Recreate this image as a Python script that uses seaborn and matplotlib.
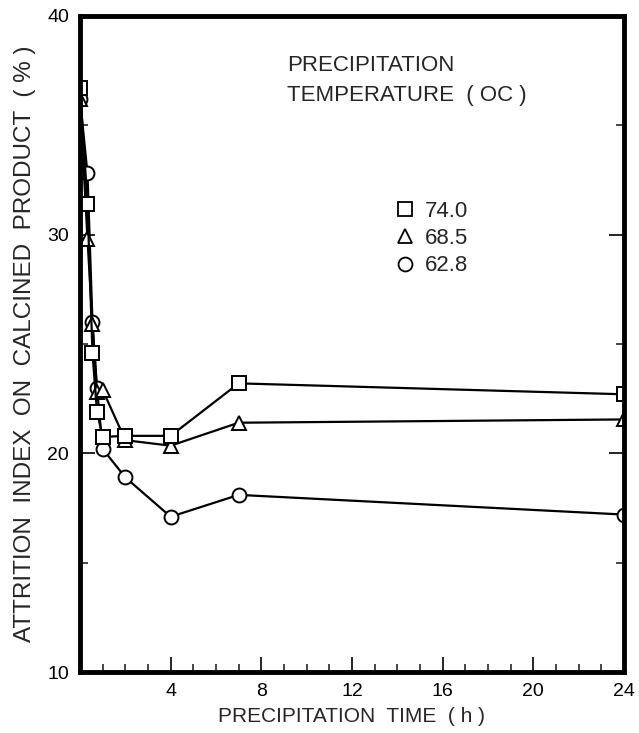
import pandas as pd
import matplotlib
matplotlib.use("Agg")
import matplotlib.pyplot as plt
import seaborn as sns
from matplotlib.lines import Line2D
from matplotlib.ticker import MultipleLocator

# precipitation time (h) and attrition index (%) per precipitation temperature
time_h = [0, 0.33, 0.55, 0.75, 1.0, 2.0, 4.0, 7.0, 24.0]
attr_740 = [36.7, 31.4, 24.6, 21.9, 20.75, 20.8, 20.8, 23.2, 22.7]
attr_685 = [36.2, 29.8, 25.9, 22.8, 22.9, 20.6, 20.35, 21.4, 21.55]
attr_628 = [36.2, 32.8, 26.0, 23.0, 20.2, 18.9, 17.1, 18.1, 17.2]
temps = ["74.0", "68.5", "62.8"]
x_ticks = [4, 8, 12, 16, 20, 24]
y_ticks = [10, 20, 30, 40]

df = pd.concat([
    pd.DataFrame({"time": time_h, "attr": attr_740, "temp": "74.0"}),
    pd.DataFrame({"time": time_h, "attr": attr_685, "temp": "68.5"}),
    pd.DataFrame({"time": time_h, "attr": attr_628, "temp": "62.8"}),
])

sns.set_style("ticks")
plt.rcParams["font.family"] = ["Liberation Sans", "DejaVu Sans"]

fig = plt.figure(figsize=(6.39, 7.33), dpi=100)
ax = fig.add_axes([0.1252, 0.0832, 0.8513, 0.895])

# draw circles first so squares sit on top at t = 0
draw_order = temps[::-1]
marker_map = {"74.0": "s", "68.5": "^", "62.8": "o"}
sns.lineplot(data=df, x="time", y="attr", hue="temp", style="temp",
             hue_order=draw_order, style_order=draw_order,
             palette=["black"] * 3, markers=marker_map, dashes=False,
             markersize=10, markerfacecolor="white", markeredgecolor="black",
             markeredgewidth=1.4, linewidth=1.6, legend=False, ax=ax)

ax.set_xlim(0, 24)
ax.set_ylim(10, 40)
ax.set_xticks(x_ticks)
ax.set_yticks(y_ticks)
ax.xaxis.set_minor_locator(MultipleLocator(1))
ax.yaxis.set_minor_locator(MultipleLocator(5))
ax.tick_params(axis="both", which="major", direction="in", length=11,
               width=1.2, labelsize=14, colors="black", pad=8)
ax.tick_params(axis="both", which="minor", direction="in", length=6, width=1.2)
ax.tick_params(axis="y", which="both", right=True)

for sp in ax.spines.values():
    sp.set_visible(True)
    sp.set_linewidth(3.5)
    sp.set_color("black")

ax.set_xlabel("PRECIPITATION  TIME  ( h )", fontsize=15, labelpad=5)
ax.set_ylabel("ATTRITION  INDEX  ON  CALCINED  PRODUCT  ( % )", fontsize=17.5,
              labelpad=8)

ax.text(0.38, 0.94, "PRECIPITATION\nTEMPERATURE  ( OC )", transform=ax.transAxes,
        fontsize=16, va="top", ha="left", linespacing=1.55)

handles = [Line2D([], [], ls="none", marker=marker_map[t], markersize=10,
                  markerfacecolor="white", markeredgecolor="black",
                  markeredgewidth=1.3) for t in temps]
ax.legend(handles, temps, loc="upper left", bbox_to_anchor=(0.56, 0.735),
          frameon=False, fontsize=16, handlelength=0.8, handletextpad=0.5,
          labelspacing=0.28, borderpad=0)

fig.savefig("out.png", dpi=100, facecolor="white")
